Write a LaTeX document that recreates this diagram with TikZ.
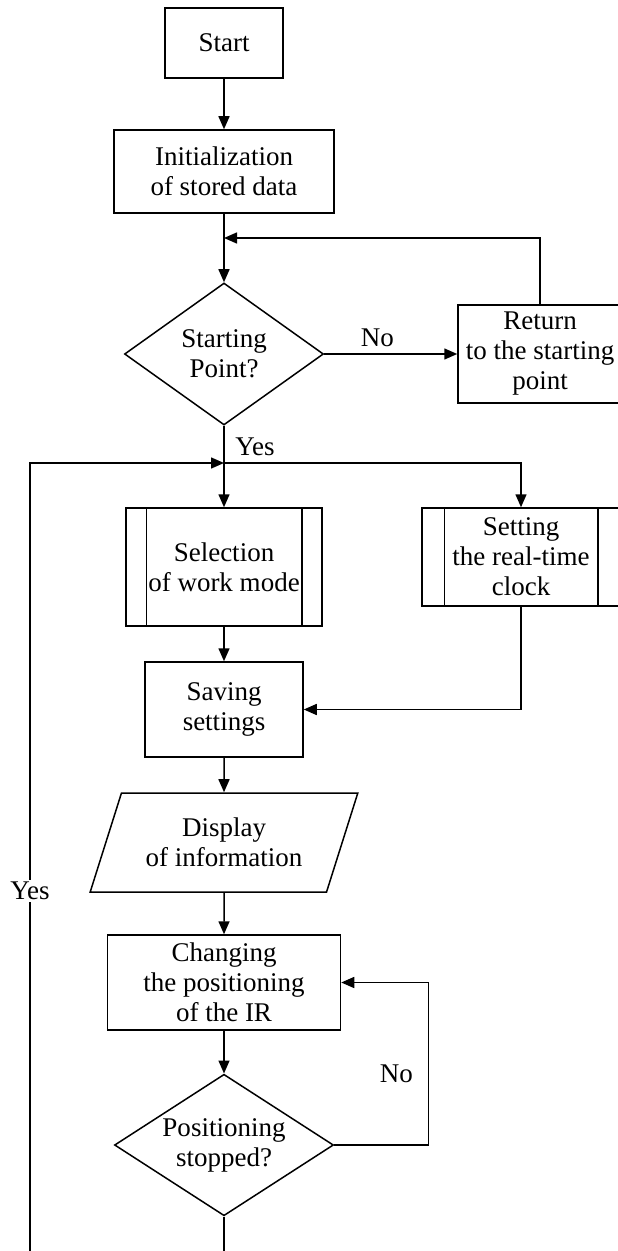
\documentclass[tikz,border=0pt]{standalone}
\usepackage{fontspec}
\setmainfont{Liberation Serif}
\usetikzlibrary{shapes.geometric,arrows.meta}

\begin{document}
\begin{tikzpicture}[x=0.5pt, y=-0.5pt, line width=0.75pt, >={Triangle[length=6.5pt,width=5.5pt]},
  every node/.style={align=center, font=\fontsize{13.5}{15}\selectfont},
  box/.style={draw, inner sep=0pt},
  dec/.style={draw, diamond, inner sep=0pt, aspect=1.4},
  io/.style={draw, trapezium, trapezium left angle=64, trapezium right angle=116, trapezium stretches=true, inner sep=0pt}]
\useasboundingbox (0,0) rectangle (617,1251);
% Blocks
\node[box, minimum width=59pt, minimum height=35pt] (start) at (224,43) {Start};
\node[box, minimum width=110pt, minimum height=41.5pt] (init) at (224,171.5) {Initialization\\of stored data};
\node[dec, minimum width=99.5pt, minimum height=71pt] (sp) at (224,354) {Starting\\Point?};
\node[box, minimum width=82pt, minimum height=49pt] (ret) at (540,354) {Return\\to the starting\\point};
\node[box, minimum width=98pt, minimum height=59pt] (sel) at (224,567) {Selection\\of work mode};
\node[box, minimum width=99pt, minimum height=49pt] (clk) at (521,557) {Setting\\the real-time\\clock};
\node[box, minimum width=79pt, minimum height=47.5pt] (save) at (224,709.5) {Saving\\settings};
\node[io, minimum width=134pt, minimum height=49.5pt] (disp) at (224,842.5) {Display\\of information};
\node[box, minimum width=116.5pt, minimum height=47.5pt] (chg) at (224,982.5) {Changing\\the positioning\\of the IR};
\node[dec, minimum width=109.5pt, minimum height=70pt] (stop) at (224,1145) {Positioning\\stopped?};
% Subprocess side bars
\draw ([xshift=10.5pt]sel.north west) -- ([xshift=10.5pt]sel.south west);
\draw ([xshift=-10.5pt]sel.north east) -- ([xshift=-10.5pt]sel.south east);
\draw ([xshift=11.5pt]clk.north west) -- ([xshift=11.5pt]clk.south west);
\draw ([xshift=-11.5pt]clk.north east) -- ([xshift=-11.5pt]clk.south east);
% Helper points
\coordinate (back) at (224,238);
\coordinate (fork) at (224,463);
\coordinate (bot) at (224,1262);
\coordinate (left) at (30,1262);
% Connections
\draw[->] (start) -- (init);
\draw[->] (init) -- (sp);
\draw[->] (sp) -- node[above, pos=0.4] {No} (ret);
\draw[->] (ret.north) |- (back);
\draw[->] (sp) -- (sel);
\draw[->] (fork) -| (clk.north);
\draw[->] (sel) -- (save);
\draw[->] (clk.south) |- (save.east);
\draw[->] (save) -- (disp);
\draw[->] (disp) -- (chg);
\draw[->] (chg) -- (stop);
\draw[->] (stop.east) -- ++(94,0) |- node[pos=0.22, left, xshift=-4pt] {No} (chg.east);
\draw (stop) -- (bot);
\draw[->] (left) |- node[pos=0.232, fill=white, inner sep=1pt] {Yes} (fork);
\node (yes) at (255,447) {Yes};
\end{tikzpicture}
\end{document}
